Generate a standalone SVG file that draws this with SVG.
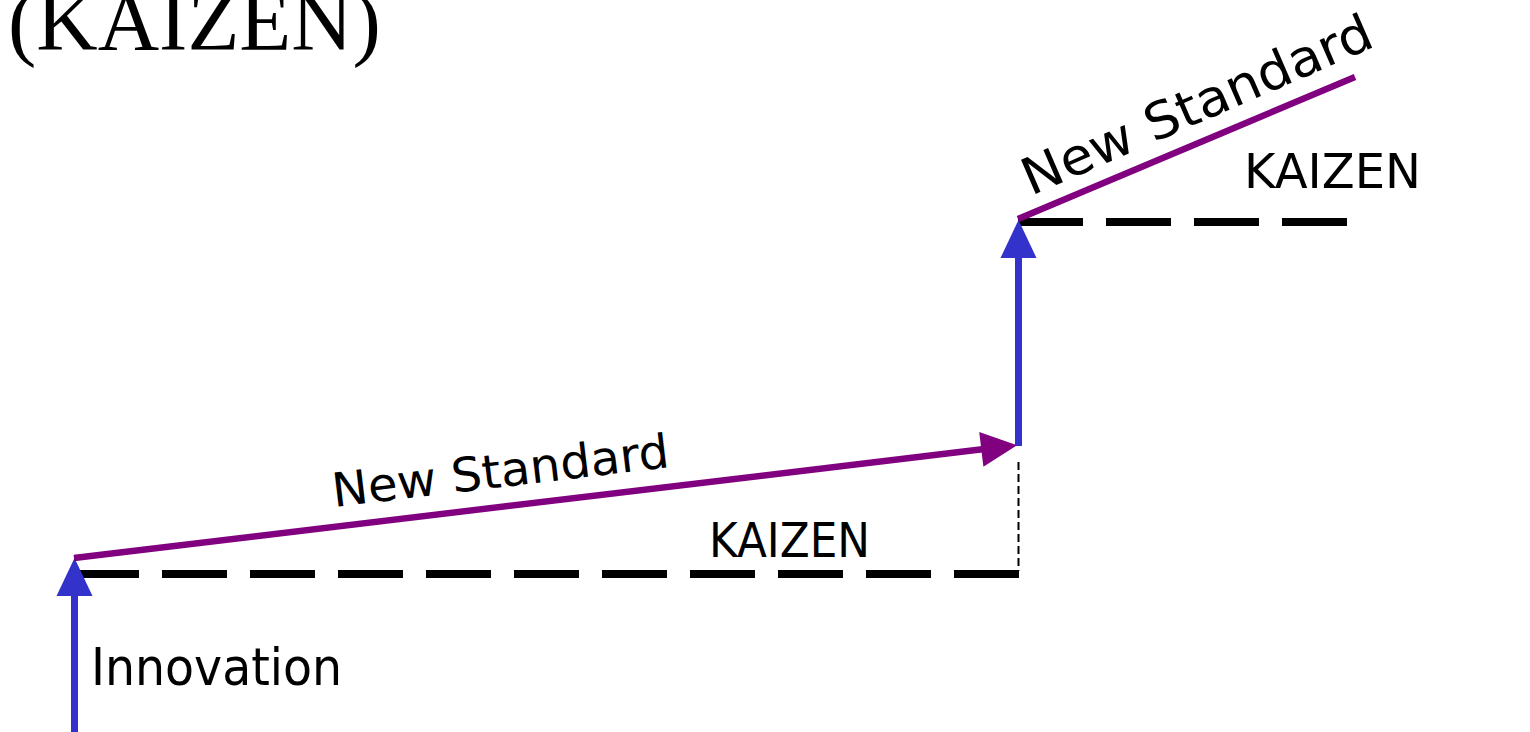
<svg xmlns="http://www.w3.org/2000/svg" width="1530" height="732" viewBox="0 0 1530 732">
  <style>
    .title { font-family: "Liberation Serif", "Times New Roman", serif; font-size: 85px; fill: #000; }
    .label { font-family: "DejaVu Sans", Verdana, sans-serif; fill: #000; }
    .innov { stroke: #3333cc; stroke-width: 7; fill: none; }
    .std { stroke: #800080; stroke-width: 6.5; fill: none; }
    .base { stroke: #000; stroke-width: 8; stroke-dasharray: 65 23; fill: none; }
    .guide { stroke: #000; stroke-width: 2; stroke-dasharray: 8 4; fill: none; }
  </style>
  <defs>
    <marker id="headBlue" markerUnits="userSpaceOnUse" markerWidth="40" markerHeight="36" refX="1" refY="18" orient="auto" overflow="visible">
      <path d="M0,0 L38,18 L0,36 Z" fill="#3333cc"/>
    </marker>
    <marker id="headPurple" markerUnits="userSpaceOnUse" markerWidth="38" markerHeight="35" refX="1" refY="17.5" orient="auto" overflow="visible">
      <path d="M0,0 L36,17.5 L0,35 Z" fill="#800080"/>
    </marker>
  </defs>

  <g id="title">
    <text class="title" x="8" y="50">(KAIZEN)</text>
  </g>

  <g id="connectors">
    <!-- baseline levels (kaizen) -->
    <line class="base" x1="74" y1="574" x2="1019" y2="574"/>
    <line class="base" x1="1018" y1="222" x2="1347" y2="222"/>
    <!-- vertical guide -->
    <line class="guide" x1="1018.5" y1="462" x2="1018.5" y2="571"/>
    <!-- innovation jumps -->
    <line class="innov" x1="74.5" y1="732" x2="74.5" y2="595" marker-end="url(#headBlue)"/>
    <line class="innov" x1="1018.5" y1="446" x2="1018.5" y2="257" marker-end="url(#headBlue)"/>
    <!-- standards -->
    <line class="std" x1="74" y1="558" x2="982.3" y2="449.3" marker-end="url(#headPurple)"/>
    <line class="std" x1="1018" y1="219" x2="1355" y2="77"/>
  </g>

  <g id="innovation-label">
    <text class="label" x="91" y="685" font-size="52" textLength="251" lengthAdjust="spacingAndGlyphs">Innovation</text>
  </g>
  <g id="kaizen-lower">
    <text class="label" x="709" y="557" font-size="48" textLength="161" lengthAdjust="spacingAndGlyphs">KAIZEN</text>
  </g>
  <g id="kaizen-upper">
    <text class="label" x="1244" y="188" font-size="48" textLength="177" lengthAdjust="spacingAndGlyphs">KAIZEN</text>
  </g>
  <g id="standard-lower">
    <text class="label" x="334" y="507" font-size="47" textLength="339" lengthAdjust="spacingAndGlyphs" transform="rotate(-6.8 334 507)">New Standard</text>
  </g>
  <g id="standard-upper">
    <text class="label" x="1031" y="196" font-size="51" textLength="377" lengthAdjust="spacingAndGlyphs" transform="rotate(-23.5 1031 196)">New Standard</text>
  </g>
</svg>
